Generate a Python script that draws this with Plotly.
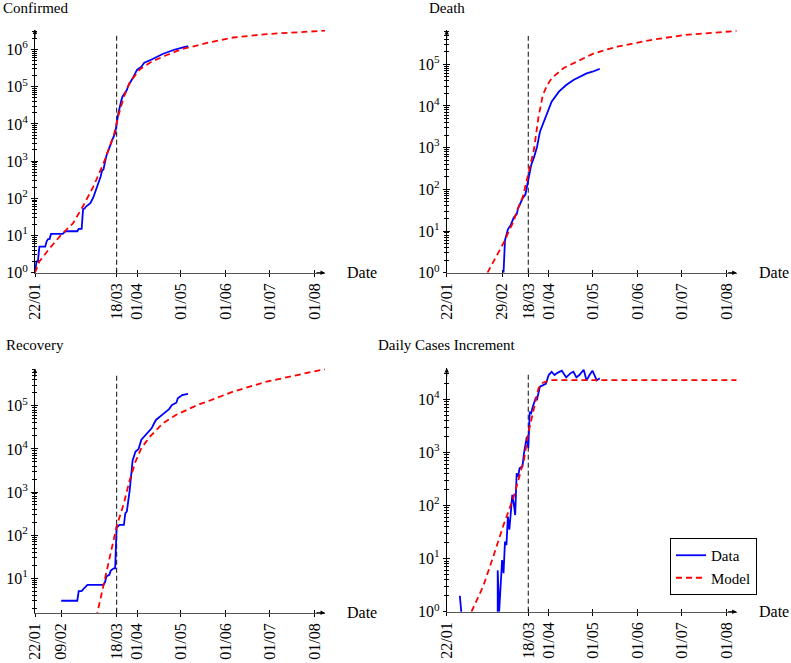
import pandas as pd
import plotly.graph_objects as go

START = pd.Timestamp("2020-01-22")
LOCKDOWN = "2020-03-18"
X_END_DAY = 199

# ---------------- data (day offset from 22/01, value) ----------------
confirmed_days = [0, 1, 2, 3, 7, 8, 9, 10, 11, 19, 21, 29, 30, 32, 33, 34, 35, 38, 40, 41, 42, 44, 45, 46, 47,
                  49, 51, 53, 55, 56, 57, 59, 60, 63, 64, 67, 70, 73, 75, 80, 88, 95, 97, 101, 105]
confirmed_vals = [1, 2, 2, 5, 5, 7, 8, 8, 11, 11, 13, 13, 15, 15, 51, 53, 60, 74, 105, 136, 167, 280, 380, 550, 600,
                  1400, 2450, 3700, 5600, 10000, 17300, 39600, 54000, 81000, 106000, 168000, 282000, 345000, 440000,
                  540000, 770000, 970000, 1030000, 1120000, 1240000]
confirmed_model_days = [0, 3, 10, 18, 26, 33, 40, 47, 54, 57, 61, 65, 72, 80, 90, 100, 118, 136, 159, 199]
confirmed_model_vals = [1, 2, 4.5, 10.5, 21, 62, 205, 870, 4800, 15600, 54000, 130000, 295000, 470000, 700000,
                        1000000, 1500000, 2100000, 2600000, 3200000]

death_days = [39, 40, 42, 44, 46, 48, 49, 52, 54, 56, 58, 60, 62, 64, 69, 72, 77, 82, 87, 94, 96, 100, 105]
death_vals = [1, 6, 11, 14, 21, 25, 35, 60, 75, 180, 383, 600, 1050, 2400, 7000, 12600, 22000, 31600, 42000,
              55000, 60000, 66000, 77000]
death_model_days = [28, 34, 40, 43, 46, 48, 52, 55, 56, 60, 63, 66, 69, 72, 80, 94, 101, 110, 117, 140, 163, 199]
death_model_vals = [1, 2.5, 6, 10.6, 17, 30, 62, 167, 240, 950, 5500, 18300, 31600, 46000, 80000, 140000,
                    182000, 225000, 263000, 380000, 500000, 630000]

recovery_days = [18, 29, 30, 32, 34, 36, 47, 48, 49, 51, 52, 54, 55, 56, 58, 61, 62, 63, 65, 66, 67, 69, 71, 73,
                 77, 80, 82, 83, 87, 90, 92, 94, 97, 98, 101, 105]
recovery_vals = [3, 3, 5, 5, 6, 7, 7, 8, 11, 12, 15, 17, 17, 150, 173, 173, 325, 350, 1100, 2100, 5500, 8700, 9800,
                 16300, 23000, 30000, 41000, 47000, 61000, 74000, 84000, 105000, 118000, 150000, 178000, 190000]
recovery_model_days = [42, 43, 47, 51, 56, 61, 65, 69, 73, 79, 88, 97, 106, 113, 118, 136, 159, 199]
recovery_model_vals = [1.2, 1.7, 7.6, 32, 158, 550, 1900, 5100, 10500, 19500, 40000, 62000, 87000, 110000,
                       125000, 214000, 365000, 710000]

daily_days = [9, 10, 11, 34, 35, 36, 38, 39, 40, 41, 42, 43, 45, 46, 47, 48, 49, 50, 52, 53, 54, 55, 56, 57, 58,
              59, 61, 62, 64, 66, 68, 70, 72, 74, 76, 79, 82, 85, 87, 89, 91, 94, 96, 98, 100, 103, 105]
daily_vals = [2, 1, 0, 0, 6, 1, 9.4, 5.3, 21, 18, 62, 35, 158, 110, 66, 405, 350, 500, 550, 960, 1380, 1980, 1200,
              5800, 5500, 7200, 10400, 10000, 17300, 18600, 19500, 28600, 33000, 28600, 31500, 34600, 25800, 31000,
              33000, 25800, 28600, 36000, 22700, 28600, 34600, 22700, 25000]
daily_model_days = [17, 25, 32, 39, 46, 53, 56, 60, 63, 66, 71, 199]
daily_model_vals = [1.0, 3, 11, 43, 147, 720, 2280, 7200, 16200, 20500, 23000, 23000]

ticks_main = ["2020-01-22", "2020-03-18", "2020-04-01", "2020-05-01", "2020-06-01", "2020-07-01", "2020-08-01"]
ticks_death = ["2020-01-22", "2020-02-29", "2020-03-18", "2020-04-01", "2020-05-01", "2020-06-01",
               "2020-07-01", "2020-08-01"]
ticks_recovery = ["2020-01-22", "2020-02-09", "2020-03-18", "2020-04-01", "2020-05-01", "2020-06-01",
                  "2020-07-01", "2020-08-01"]


def to_dates(days):
    return [START + pd.Timedelta(days=d) for d in days]


W, H = 791, 663
FONT = "Liberation Serif"
TICKSIZE = 16


def px(xp):
    return xp / W


def py(yp):
    return 1 - yp / H


panels = [
    dict(title="Confirmed", data=(confirmed_days, confirmed_vals), model=(confirmed_model_days, confirmed_model_vals),
         xpx=(35, 325), ypx=(272.7, 29.5), dec=37.2, ybot=0, exps=range(0, 7), xt=ticks_main, ty=8),
    dict(title="Death", data=(death_days, death_vals), model=(death_model_days, death_model_vals),
         xpx=(446.7, 736.7), ypx=(272.7, 30.0), dec=41.7, ybot=0, exps=range(0, 6), xt=ticks_death, ty=8),
    dict(title="Recovery", data=(recovery_days, recovery_vals), model=(recovery_model_days, recovery_model_vals),
         xpx=(35, 325), ypx=(612.7, 368.5), dec=43.1, ybot=0.2, exps=range(1, 6), xt=ticks_recovery, ty=345),
    dict(title="Daily Cases Increment", data=(daily_days, daily_vals), model=(daily_model_days, daily_model_vals),
         xpx=(446.7, 736.7), ypx=(611.7, 368.0), dec=53.1, ybot=0, exps=range(0, 5), xt=ticks_main, ty=345),
]

fig = go.Figure()
layout = dict(template="none", width=W, height=H, margin=dict(l=0, r=0, t=0, b=0, pad=0), autosize=False,
              plot_bgcolor="white", paper_bgcolor="white",
              font=dict(family=FONT, size=15, color="black"),
              showlegend=True,
              legend=dict(x=px(670), y=py(538), xanchor="left", yanchor="top",
                          bordercolor="black", borderwidth=1, bgcolor="white",
                          font=dict(family=FONT, size=15), itemwidth=30, tracegroupgap=0))
annotations = []
shapes = []
xrange = [START, START + pd.Timedelta(days=X_END_DAY)]

for i, p in enumerate(panels, start=1):
    sfx = "" if i == 1 else str(i)
    o = i + 4
    xd = [px(p["xpx"][0]), px(p["xpx"][1])]
    yd = [py(p["ypx"][0]), py(p["ypx"][1])]
    ytop = p["ybot"] + (p["ypx"][0] - p["ypx"][1]) / p["dec"]
    yr = [p["ybot"], ytop]
    major = [10 ** e for e in p["exps"]]
    minor = [m * 10 ** e for e in range(-1, 7) for m in range(2, 10)]
    ttext = [f"10<sup>{e}</sup>" for e in p["exps"]]
    xtext = [pd.Timestamp(t).strftime("%d/%m") for t in p["xt"]]

    layout[f"xaxis{sfx}"] = dict(domain=xd, anchor=f"y{sfx}", type="date", range=xrange, automargin=False,
                                 tickmode="array", tickvals=p["xt"], ticktext=xtext, tickangle=-90,
                                 ticks="outside", ticklen=3, tickwidth=0.8, tickcolor="black",
                                 showline=True, linecolor="#555", linewidth=1.3,
                                 showgrid=False, zeroline=False, tickfont=dict(size=TICKSIZE))
    layout[f"yaxis{sfx}"] = dict(domain=yd, anchor=f"x{sfx}", type="log", range=yr, automargin=False,
                                 tickmode="array", tickvals=major, ticktext=ttext,
                                 ticks="outside", ticklen=3, tickwidth=0.8, tickcolor="black",
                                 minor=dict(tickmode="array", tickvals=minor, ticks="outside", ticklen=2,
                                            tickwidth=0.6, tickcolor="black", showgrid=False),
                                 showline=True, linecolor="black", linewidth=1,
                                 showgrid=False, zeroline=False, tickfont=dict(size=TICKSIZE))
    # overlay axes: inner half of the crossing ticks
    layout[f"xaxis{o}"] = dict(overlaying=f"x{sfx}", anchor=f"y{o}", type="date", range=xrange, automargin=False,
                               tickmode="array", tickvals=p["xt"], showticklabels=False,
                               ticks="inside", ticklen=3, tickwidth=0.8, tickcolor="black",
                               showline=False, showgrid=False, zeroline=False)
    layout[f"yaxis{o}"] = dict(overlaying=f"y{sfx}", anchor=f"x{o}", type="log", range=yr, automargin=False,
                               tickmode="array", tickvals=major, showticklabels=False,
                               ticks="inside", ticklen=3, tickwidth=0.8, tickcolor="black",
                               minor=dict(tickmode="array", tickvals=minor, ticks="inside", ticklen=2,
                                          tickwidth=0.6, tickcolor="black", showgrid=False),
                               showline=False, showgrid=False, zeroline=False)
    fig.add_trace(go.Scatter(x=[], y=[], xaxis=f"x{o}", yaxis=f"y{o}", showlegend=False, hoverinfo="skip"))

    show = (i == 4)
    fig.add_trace(go.Scatter(x=to_dates(p["data"][0]), y=p["data"][1], mode="lines", name="Data",
                             line=dict(color="#0000ff", width=1.8), showlegend=show,
                             xaxis=f"x{sfx}", yaxis=f"y{sfx}"))
    fig.add_trace(go.Scatter(x=to_dates(p["model"][0]), y=p["model"][1], mode="lines", name="Model",
                             line=dict(color="#ff0000", width=1.8, dash="6px,4px"), showlegend=show,
                             xaxis=f"x{sfx}", yaxis=f"y{sfx}"))

    shapes.append(dict(type="line", xref=f"x{sfx}", yref=f"y{sfx} domain", x0=LOCKDOWN, x1=LOCKDOWN,
                       y0=0, y1=0.975, line=dict(color="#333", width=1.2, dash="5px,3px"), layer="below"))
    # axis arrows
    annotations.append(dict(xref=f"x{sfx} domain", yref=f"y{sfx} domain", x=1, y=0, ax=-10, ay=0,
                            showarrow=True, arrowhead=2, arrowsize=0.9, arrowwidth=1, arrowcolor="black",
                            text=""))
    annotations.append(dict(xref=f"x{sfx} domain", yref=f"y{sfx} domain", x=0, y=1, ax=0, ay=10,
                            showarrow=True, arrowhead=2, arrowsize=0.9, arrowwidth=1, arrowcolor="black",
                            text=""))
    annotations.append(dict(xref=f"x{sfx} domain", yref=f"y{sfx} domain", x=1, y=0, xanchor="left",
                            yanchor="middle", xshift=20, showarrow=False, text="Date",
                            font=dict(family=FONT, size=16)))
    annotations.append(dict(xref=f"x{sfx} domain", yref="paper", x=0, y=py(p["ty"]), xanchor="center",
                            yanchor="middle", showarrow=False, text=p["title"],
                            font=dict(family=FONT, size=15)))

layout["annotations"] = annotations
layout["shapes"] = shapes
fig.update_layout(**layout)
fig.write_html("out.html", config={"displayModeBar": False},
               post_script="document.body.style.margin='0px';")
